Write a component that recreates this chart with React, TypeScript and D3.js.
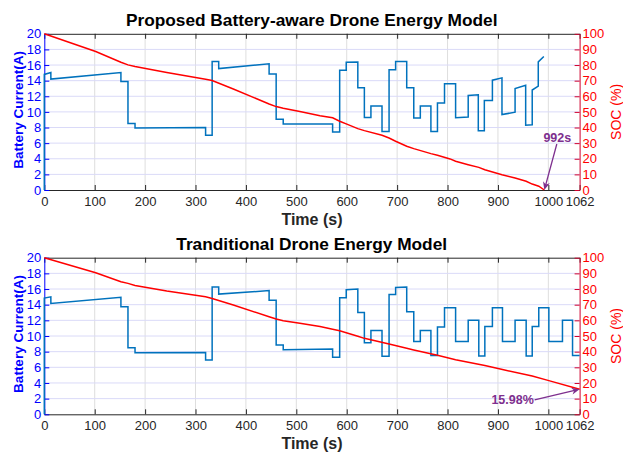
import React, { useEffect, useRef } from 'react';
import * as d3 from 'd3';

type Pt = [number, number];

const timeTicks = [0, 100, 200, 300, 400, 500, 600, 700, 800, 900, 1000, 1062];
const currentTicks = [0, 2, 4, 6, 8, 10, 12, 14, 16, 18, 20];
const socTicks = [0, 10, 20, 30, 40, 50, 60, 70, 80, 90, 100];

// battery current (A) over time (s), step profile
const proposedCurrent: Pt[] = [
  [0, 0], [0, 14.8], [13, 15.05], [13, 14.2], [152, 15.05], [152, 13.9], [166, 13.9], [166, 8.5],
  [180, 8.5], [180, 7.95], [320, 8.0], [320, 7.0], [333, 7.0], [333, 16.45], [346, 16.45], [346, 15.55],
  [446, 16.15], [446, 14.85], [460, 14.85], [460, 9.05], [474, 9.05], [474, 8.45], [572, 8.45], [572, 7.44],
  [586, 7.44], [586, 15.34], [599, 15.34], [599, 16.37], [622, 16.4], [622, 13.1], [635, 13.1], [635, 9.27],
  [648, 9.27], [648, 10.77], [670, 10.77], [670, 7.48], [684, 7.48], [684, 15.4], [697, 15.4], [697, 16.45],
  [719, 16.45], [719, 13.1], [733, 13.1], [733, 9.23], [746, 9.23], [746, 10.77], [767, 10.77], [767, 7.48],
  [780, 7.48], [780, 11.15], [794, 11.15], [794, 13.6], [816, 13.6], [816, 9.25], [841, 9.35], [841, 12.1],
  [861, 12.2], [861, 7.6], [873, 7.6], [873, 11.45], [889, 11.45], [889, 14.06], [908, 14.36], [908, 9.66],
  [934, 9.96], [934, 13.0], [955, 13.4], [955, 8.3], [968, 8.35], [968, 12.8], [980, 13.3], [980, 16.4],
  [991, 17.1],
];

const traditionalCurrent: Pt[] = [
  [0, 0], [0, 14.85], [13, 15.0], [13, 14.15], [152, 14.95], [152, 13.75], [166, 13.75], [166, 8.5],
  [180, 8.5], [180, 7.85], [320, 7.9], [320, 6.95], [333, 6.95], [333, 16.25], [346, 16.25], [346, 15.35],
  [446, 15.8], [446, 14.55], [460, 14.55], [460, 8.85], [474, 8.85], [474, 8.25], [572, 8.35], [572, 7.3],
  [586, 7.3], [586, 14.9], [599, 14.9], [599, 15.9], [622, 16.0], [622, 13.0], [635, 13.0], [635, 9.15],
  [648, 9.15], [648, 10.7], [670, 10.7], [670, 7.4], [684, 7.4], [684, 15.3], [697, 15.3], [697, 16.2],
  [719, 16.25], [719, 13.1], [733, 13.1], [733, 9.3], [746, 9.3], [746, 10.7], [767, 10.7], [767, 7.5],
  [780, 7.5], [780, 11.15], [794, 11.15], [794, 13.6], [816, 13.6], [816, 9.3], [841, 9.3], [841, 12.0],
  [862, 12.0], [862, 7.45], [874, 7.45], [874, 11.2], [889, 11.2], [889, 13.6], [909, 13.6], [909, 9.3],
  [934, 9.3], [934, 12.0], [956, 12.0], [956, 7.45], [968, 7.45], [968, 11.2], [981, 11.2], [981, 13.6],
  [1001, 13.6], [1001, 9.3], [1028, 9.3], [1028, 12.0], [1048, 12.0], [1048, 7.5], [1062, 7.5],
];

// state of charge (%) over time (s)
const proposedSoc: Pt[] = [
  [0, 100], [102, 88.7], [152, 81.8], [166, 80.1], [180, 79.1], [243, 75.2], [320, 70.9], [333, 70.1],
  [375, 64.7], [446, 55.1], [460, 53.4], [474, 52.3], [507, 50.2], [547, 47.6], [572, 46.2], [586, 44.0],
  [599, 42.3], [622, 39.3], [635, 38.0], [670, 35.0], [684, 33.3], [697, 31.2], [719, 28.0], [733, 26.5],
  [767, 23.3], [780, 22.2], [805, 19.9], [816, 18.4], [841, 16.2], [862, 14.5], [874, 13.0], [908, 9.8],
  [934, 7.7], [956, 5.6], [968, 3.8], [981, 2.4], [992, 0],
];

const traditionalSoc: Pt[] = [
  [0, 100], [102, 90.4], [152, 84.7], [166, 83.6], [180, 82.3], [243, 78.7], [320, 75.1], [333, 74.0],
  [375, 69.8], [446, 62.3], [460, 60.9], [474, 59.8], [507, 58.1], [547, 56.0], [572, 54.3], [586, 53.4],
  [622, 49.8], [635, 48.5], [684, 44.9], [719, 42.2], [733, 41.1], [780, 37.7], [816, 34.9], [874, 31.1],
  [909, 28.6], [968, 24.4], [1001, 21.5], [1062, 15.98],
];

const FONT = '"Liberation Sans", Arial, Helvetica, sans-serif';
const BLUE_AXIS = '#0000FF';
const RED_AXIS = '#D0002E';
const LINE_BLUE = '#0072BD';
const LINE_RED = '#FF0000';
const PURPLE = '#7E2F8E';

interface PanelOpts {
  top: number;
  bottom: number;
  title: string;
  current: Pt[];
  soc: Pt[];
  note: string;
  noteAt: Pt; // [time, soc] the arrow points to
  noteTail: [number, number]; // pixel offset of arrow tail from tip
  noteText: [number, number]; // pixel offset of text from tip
}

function drawArrow(g: d3.Selection<SVGGElement, unknown, null, undefined>, x0: number, y0: number, x1: number, y1: number) {
  const dx = x1 - x0, dy = y1 - y0;
  const len = Math.hypot(dx, dy);
  const ux = dx / len, uy = dy / len;
  const L = 8, W = 3.5;
  const bx = x1 - ux * L, by = y1 - uy * L;
  g.append('line')
    .attr('x1', x0).attr('y1', y0)
    .attr('x2', x1 - ux * 4).attr('y2', y1 - uy * 4)
    .attr('stroke', PURPLE).attr('stroke-width', 1.3);
  const pts = [
    [x1, y1],
    [bx - uy * W, by + ux * W],
    [x1 - ux * L * 0.7, y1 - uy * L * 0.7],
    [bx + uy * W, by - ux * W],
  ];
  g.append('polygon')
    .attr('points', pts.map(p => p.join(',')).join(' '))
    .attr('fill', PURPLE);
}

function drawPanel(svg: d3.Selection<SVGSVGElement, unknown, null, undefined>, o: PanelOpts) {
  const left = 44.3, right = 579.6;
  const x = d3.scaleLinear().domain([0, 1062]).range([left, right]);
  const yL = d3.scaleLinear().domain([0, 20]).range([o.bottom, o.top]);
  const yR = d3.scaleLinear().domain([0, 100]).range([o.bottom, o.top]);

  const g = svg.append('g');

  // grid
  g.selectAll('line.vgrid')
    .data(timeTicks.filter(t => t > 0 && t < 1062))
    .join('line')
    .attr('x1', d => x(d)).attr('x2', d => x(d))
    .attr('y1', o.top).attr('y2', o.bottom)
    .attr('stroke', '#DEDEDE').attr('stroke-width', 1);
  g.selectAll('line.hgrid')
    .data(currentTicks.filter(v => v > 0 && v < 20))
    .join('line')
    .attr('x1', left).attr('x2', right)
    .attr('y1', d => yL(d)).attr('y2', d => yL(d))
    .attr('stroke', '#DADAF8').attr('stroke-width', 1);

  // top border with inward ticks
  g.append('g')
    .attr('transform', `translate(0,${o.top})`)
    .call(d3.axisTop(x).tickValues(timeTicks).tickSizeInner(-5).tickSizeOuter(0).tickFormat(() => ''))
    .attr('color', '#262626');

  // bottom axis
  const xa = g.append('g')
    .attr('transform', `translate(0,${o.bottom})`)
    .call(d3.axisBottom(x).tickValues(timeTicks).tickSizeInner(-5).tickSizeOuter(0).tickPadding(6.5).tickFormat(d => String(d)))
    .attr('color', '#262626')
    .attr('font-size', 13)
    .attr('font-family', FONT);
  xa.selectAll('text').attr('fill', '#262626');

  // left axis
  g.append('g')
    .attr('transform', `translate(${left},0)`)
    .call(d3.axisLeft(yL).tickValues(currentTicks).tickSizeInner(-5).tickSizeOuter(0).tickPadding(3).tickFormat(d => String(d)))
    .attr('color', BLUE_AXIS)
    .attr('font-size', 13)
    .attr('font-family', FONT);

  // right axis
  const ra = g.append('g')
    .attr('transform', `translate(${right},0)`)
    .call(d3.axisRight(yR).tickValues(socTicks).tickSizeInner(-5).tickSizeOuter(0).tickPadding(3).tickFormat(d => String(d)))
    .attr('color', RED_AXIS)
    .attr('font-size', 13)
    .attr('font-family', FONT);
  ra.selectAll('text').attr('fill', LINE_RED);

  // data
  const lineL = d3.line<Pt>().x(d => x(d[0])).y(d => yL(d[1]));
  const lineR = d3.line<Pt>().x(d => x(d[0])).y(d => yR(d[1]));
  g.append('path').datum(o.current)
    .attr('fill', 'none').attr('stroke', LINE_BLUE).attr('stroke-width', 1.5)
    .attr('stroke-linejoin', 'miter')
    .attr('d', lineL);
  g.append('path').datum(o.soc)
    .attr('fill', 'none').attr('stroke', LINE_RED).attr('stroke-width', 1.5)
    .attr('d', lineR);

  // titles and labels
  const mid = (left + right) / 2;
  g.append('text')
    .attr('x', 311.7).attr('y', o.top - 8)
    .attr('text-anchor', 'middle')
    .attr('font-family', FONT).attr('font-weight', 'bold').attr('font-size', 17.3)
    .attr('fill', '#000')
    .text(o.title);
  g.append('text')
    .attr('x', mid).attr('y', o.bottom + 35)
    .attr('text-anchor', 'middle')
    .attr('font-family', FONT).attr('font-weight', 'bold').attr('font-size', 16)
    .attr('fill', '#262626')
    .text('Time (s)');
  const cy = (o.top + o.bottom) / 2;
  g.append('text')
    .attr('transform', `translate(22.5,${cy - 2}) rotate(-90)`)
    .attr('text-anchor', 'middle')
    .attr('font-family', FONT).attr('font-weight', 'bold').attr('font-size', 13.5)
    .attr('fill', BLUE_AXIS)
    .text('Battery Current(A)');
  g.append('text')
    .attr('transform', `translate(621,${cy}) rotate(-90)`)
    .attr('text-anchor', 'middle')
    .attr('font-family', FONT).attr('font-size', 14)
    .attr('fill', LINE_RED)
    .text('SOC (%)');

  // annotation
  const tx = x(o.noteAt[0]), ty = yR(o.noteAt[1]);
  drawArrow(g, tx + o.noteTail[0], ty + o.noteTail[1], tx, ty);
  g.append('text')
    .attr('x', tx + o.noteText[0]).attr('y', ty + o.noteText[1])
    .attr('text-anchor', 'middle')
    .attr('font-family', FONT).attr('font-weight', 'bold').attr('font-size', 12.5)
    .attr('fill', PURPLE)
    .text(o.note);
}

const App: React.FC = () => {
  const svgRef = useRef<SVGSVGElement>(null);

  useEffect(() => {
    if (!svgRef.current) return;
    const svg = d3.select(svgRef.current);
    svg.selectAll('*').remove();

    drawPanel(svg, {
      top: 33.8, bottom: 190, title: 'Proposed Battery-aware Drone Energy Model',
      current: proposedCurrent, soc: proposedSoc,
      note: '992s', noteAt: [992, 0], noteTail: [12.5, -46], noteText: [13, -48.5],
    });
    drawPanel(svg, {
      top: 257.7, bottom: 414.3, title: 'Tranditional Drone Energy Model',
      current: traditionalCurrent, soc: traditionalSoc,
      note: '15.98%', noteAt: [1062, 15.98], noteTail: [-45, 10.5], noteText: [-67, 14.5],
    });
  }, []);

  return (
    <svg ref={svgRef} width={623} height={452}
      style={{ position: 'absolute', left: 0, top: 0, background: '#fff' }} />
  );
};

export default App;
